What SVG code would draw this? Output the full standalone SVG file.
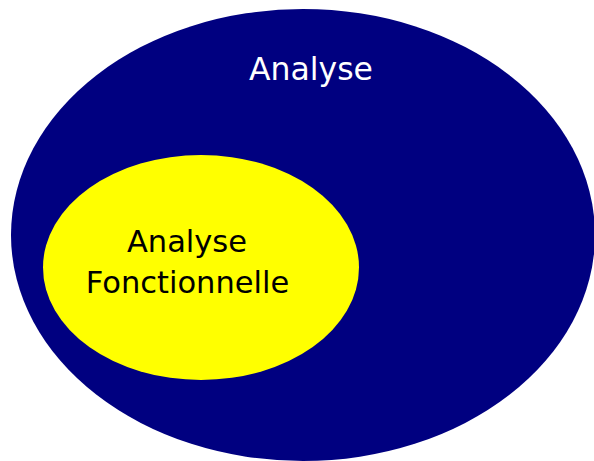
<svg xmlns="http://www.w3.org/2000/svg" width="594" height="461" viewBox="0 0 594 461">
<style>
.lbl{font-family:"DejaVu Sans",sans-serif;text-anchor:middle}
</style>
<rect width="594" height="461" fill="#ffffff"/>
<g id="analyse">
<ellipse cx="303" cy="235" rx="292" ry="226" fill="#000080"/>
<text class="lbl" x="311" y="80" font-size="31.5" fill="#ffffff">Analyse</text>
</g>
<g id="analyse-fonctionnelle">
<ellipse cx="201" cy="267.5" rx="158" ry="112.5" fill="#ffff00"/>
<text class="lbl" x="187" y="252" font-size="30.5" fill="#000000">Analyse</text>
<text class="lbl" x="187.5" y="293" font-size="30.5" fill="#000000">Fonctionnelle</text>
</g>
<g id="connectors"/>
</svg>
